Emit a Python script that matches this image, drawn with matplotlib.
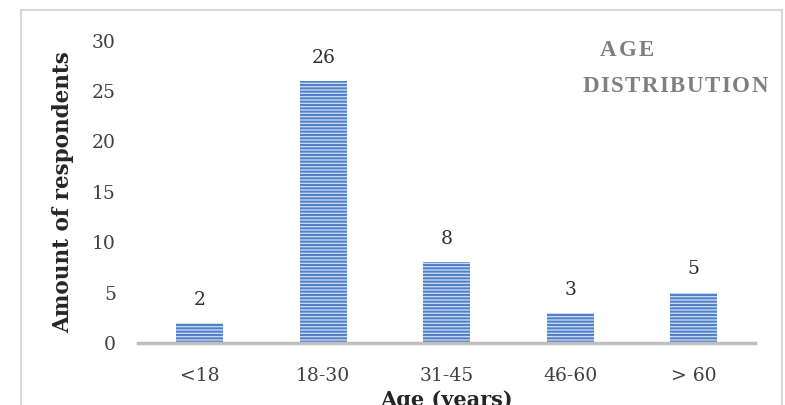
import matplotlib
matplotlib.use("Agg")
import matplotlib.pyplot as plt
from matplotlib.patches import Rectangle

# age groups and number of respondents in each
age_groups = ["<18", "18-30", "31-45", "46-60", "> 60"]
respondents = [2, 26, 8, 3, 5]
y_ticks = [0, 5, 10, 15, 20, 25, 30]

plt.rcParams["font.family"] = ["DejaVu Serif"]
plt.rcParams["hatch.linewidth"] = 1.4

W, H = 785, 405
fig = plt.figure(figsize=(W / 100, H / 100), dpi=100)
ax = fig.add_axes([0.176, 0.153, 0.786, 0.747])

# light grey frame around the whole chart area
fig.patches.append(Rectangle((0.027, -0.1), 0.969, 1.075, transform=fig.transFigure,
                             fill=False, edgecolor="#d9d9d9", linewidth=1.5))

x = range(len(age_groups))
ax.bar(x, respondents, width=0.38, color="#c6d8f2", edgecolor="#4f7fc6",
       hatch="-----", linewidth=0)

for i, v in zip(x, respondents):
    ax.text(i, v + 1.4, str(v), ha="center", va="bottom", fontsize=13.5, color="#303030")

ax.set_xlim(-0.5, len(age_groups) - 0.5)
ax.set_ylim(0, 30)
ax.set_yticks(y_ticks)
ax.set_xticks(list(x))
ax.set_xticklabels(age_groups)
ax.tick_params(axis="both", length=0, labelsize=13.5, labelcolor="#404040")
ax.tick_params(axis="y", pad=16)
ax.tick_params(axis="x", pad=17)

for side in ["top", "right", "left"]:
    ax.spines[side].set_visible(False)
ax.spines["bottom"].set_color("#bfbfbf")
ax.spines["bottom"].set_linewidth(2.5)

ax.set_ylabel("Amount of respondents", fontsize=15.5, fontweight="bold", color="#262626", labelpad=13)
ax.set_xlabel("Age (years)", fontsize=15, fontweight="bold", color="#262626", labelpad=4)


def spaced_text(cx, cy, s, gap, **kw):
    # draw a word letter by letter with extra tracking, centred on (cx, cy) in pixels
    r = fig.canvas.get_renderer()
    widths = []
    for ch in s:
        t = fig.text(0, 0, ch, **kw)
        widths.append(t.get_window_extent(r).width)
        t.remove()
    left = cx - (sum(widths) + gap * (len(s) - 1)) / 2
    for ch, w in zip(s, widths):
        fig.text(left / W, 1 - cy / H, ch, ha="left", va="center", **kw)
        left += w + gap


title_style = dict(fontsize=16.5, fontweight="bold", color="#7f7f7f", family="Liberation Serif")
spaced_text(627, 51, "AGE", 2, **title_style)
spaced_text(675, 87, "DISTRIBUTION", 1.5, **title_style)

fig.savefig("out.png", dpi=100)
